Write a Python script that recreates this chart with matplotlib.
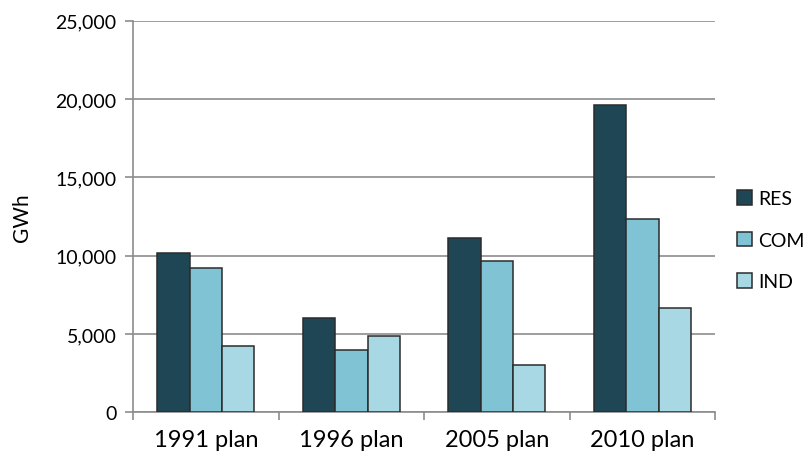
import matplotlib
matplotlib.use("Agg")
import matplotlib.pyplot as plt
import numpy as np
from matplotlib.ticker import FuncFormatter, FixedLocator

plans = ["1991 plan", "1996 plan", "2005 plan", "2010 plan"]
series_names = ["RES", "COM", "IND"]
res_values = [10150, 6050, 11150, 19650]
com_values = [9200, 3950, 9650, 12350]
ind_values = [4250, 4900, 3050, 6650]
colors = ["#1f4654", "#7fc3d4", "#a8d8e3"]

plt.rcParams["font.family"] = ["Lato", "DejaVu Sans"]

fig = plt.figure(figsize=(8.08, 4.64), dpi=100)
ax = fig.add_axes([0.1646, 0.1093, 0.885 - 0.1646, 0.953 - 0.1093])

x = np.arange(len(plans))
width = 0.223
for i, (name, vals) in enumerate(zip(series_names, [res_values, com_values, ind_values])):
    ax.bar(x + (i - 1) * width, vals, width, color=colors[i], edgecolor="#2b2b2b",
           linewidth=1.1, label=name, zorder=3)

ax.set_xlim(-0.5, len(plans) - 0.5)
ax.set_ylim(0, 25000)
ax.set_yticks(np.arange(0, 25001, 5000))
ax.yaxis.set_major_formatter(FuncFormatter(lambda v, p: f"{int(v):,}"))
ax.grid(axis="y", color="#8c8c8c", linewidth=1.2, zorder=0)

ax.set_xticks(x)
ax.set_xticklabels(plans, fontsize=17)
ax.tick_params(axis="x", which="major", length=0, pad=12)
ax.xaxis.set_minor_locator(FixedLocator(np.arange(-0.5, len(plans), 1.0)))
ax.tick_params(axis="x", which="minor", length=6, color="#8c8c8c", width=1.2)
ax.tick_params(axis="y", length=6, color="#8c8c8c", width=1.2, labelsize=14, pad=6)

for side in ["top", "right"]:
    ax.spines[side].set_visible(False)
for side in ["left", "bottom"]:
    ax.spines[side].set_color("#8c8c8c")
    ax.spines[side].set_linewidth(1.2)

ax.set_ylabel("GWh", fontsize=15, labelpad=17)

fig.legend(loc="center left", bbox_to_anchor=(0.912, 0.48), frameon=False,
           fontsize=14, handlelength=0.78, handleheight=0.78, handletextpad=0.3,
           labelspacing=1.25, borderpad=0, borderaxespad=0)

fig.savefig("out.png", dpi=100)
